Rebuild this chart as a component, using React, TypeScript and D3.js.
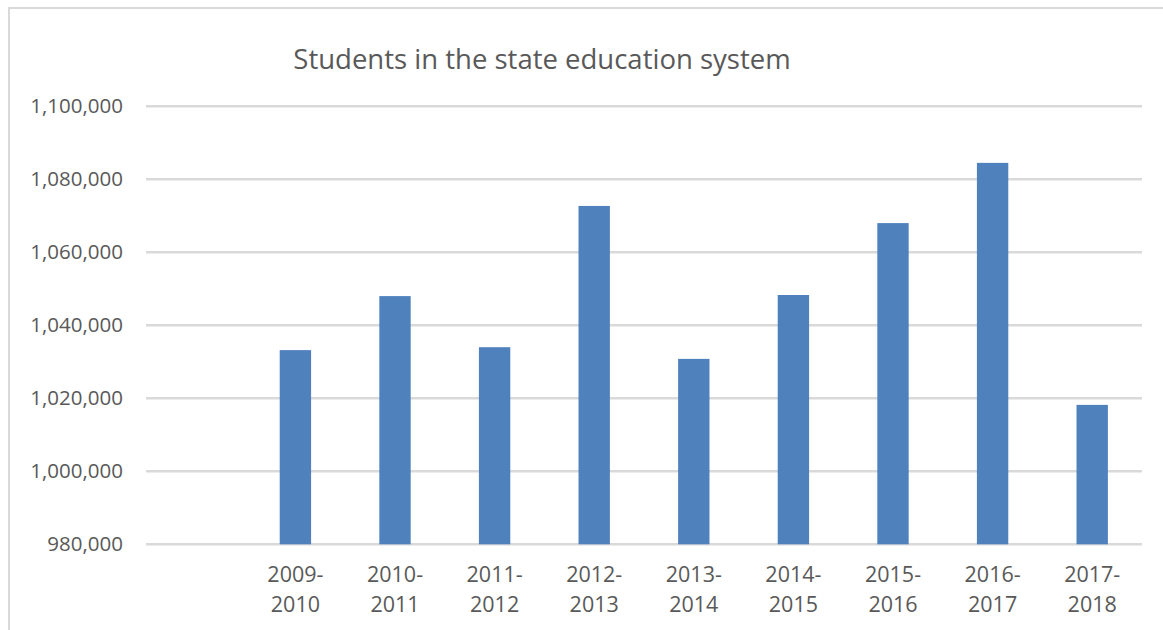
import React from "react";
import * as d3 from "d3";

const title = "Students in the state education system";
const categories: string[] = ["", "2009-2010", "2010-2011", "2011-2012", "2012-2013", "2013-2014", "2014-2015", "2015-2016", "2016-2017", "2017-2018"];
const values: (number | null)[] = [null, 1033200, 1048000, 1034000, 1072700, 1030800, 1048300, 1068000, 1084500, 1018200];
const yTicks: number[] = [980000, 1000000, 1020000, 1040000, 1060000, 1080000, 1100000];

const W = 1163;
const H = 630;
const FONT = "'Open Sans', 'Liberation Sans', sans-serif";
const TEXT = "#595959";

export default function App() {
  const x = d3.scaleBand<string>().domain(categories.map((c, i) => String(i))).range([146, 1142]).paddingInner(0.685).paddingOuter(0.3425);
  const y = d3.scaleLinear().domain([980000, 1100000]).range([544.3, 106.3]);
  const fmt = d3.format(",");
  return (
    <svg width={W} height={H} style={{ position: "absolute", left: 0, top: 0, background: "#fff" }} fontFamily={FONT}>
      <rect x={9} y={8} width={1170} height={650} fill="#fff" stroke="#d9d9d9" strokeWidth={2} />
      <text x={542} y={69} textAnchor="middle" fontSize={27.5} fill={TEXT}>{title}</text>
      {yTicks.map((t) => (
        <g key={t}>
          <line x1={146} x2={1142} y1={y(t)} y2={y(t)} stroke="#d9d9d9" strokeWidth={2.5} />
          <text x={123} y={y(t)} dy="0.35em" textAnchor="end" fontSize={20.5} fill={TEXT}>{fmt(t)}</text>
        </g>
      ))}
      {categories.map((c, i) => {
        const v = values[i];
        const bx = x(String(i)) as number;
        return (
          <g key={i}>
            {v != null && (
              <rect x={bx} y={y(v)} width={x.bandwidth()} height={y(980000) - y(v)} fill="#4f81bd" />
            )}
            {c !== "" && (
              <text x={bx + x.bandwidth() / 2} textAnchor="middle" fontSize={21.5} fill={TEXT}>
                <tspan x={bx + x.bandwidth() / 2} y={582}>{c.split("-")[0] + "-"}</tspan>
                <tspan x={bx + x.bandwidth() / 2} y={612}>{c.split("-")[1]}</tspan>
              </text>
            )}
          </g>
        );
      })}
    </svg>
  );
}
